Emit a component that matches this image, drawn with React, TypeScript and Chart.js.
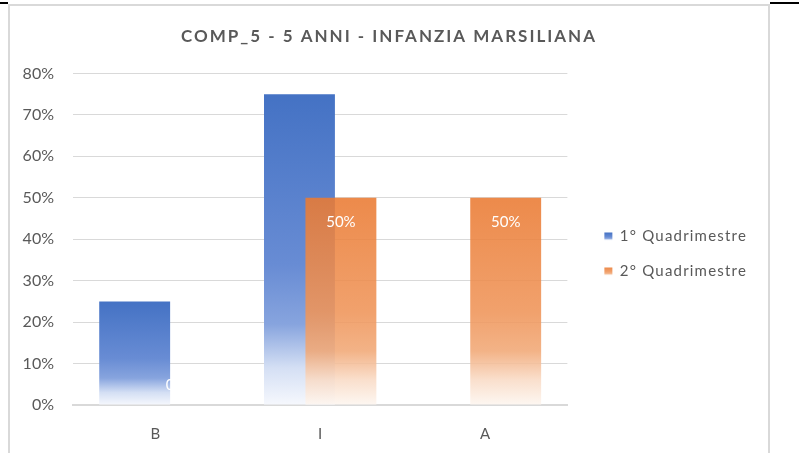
import React, { useEffect, useRef } from 'react';
import { Chart, registerables } from 'chart.js';

Chart.register(...registerables);

const TITLE = 'COMP_5 - 5 ANNI - INFANZIA MARSILIANA';
const CATEGORIES = ['B', 'I', 'A'];
const SERIES_NAMES = ['1° Quadrimestre', '2° Quadrimestre'];
const Q1_VALUES = [25, 75, 0];
const Q2_VALUES = [0, 50, 50];
const Y_MAX = 80;
const Y_STEP = 10;

const FONT = 'Lato, "Open Sans", sans-serif';
const TEXT = '#595959';
const GRID = '#d9d9d9';
const LEGEND_GAP = 17;
const LEGEND_DROP = 30;

const BLUE_STOPS: [number, string][] = [
  [0, 'rgb(68,114,196)'],
  [0.55, 'rgb(104,140,212)'],
  [0.74, 'rgb(135,164,222)'],
  [0.88, 'rgb(212,223,244)'],
  [1, 'rgb(246,248,253)'],
];
const ORANGE_STOPS: [number, string][] = [
  [0, 'rgba(234,122,50,0.88)'],
  [0.55, 'rgba(239,148,88,0.88)'],
  [0.74, 'rgba(241,168,118,0.88)'],
  [0.88, 'rgba(249,219,198,0.88)'],
  [1, 'rgba(253,246,240,0.88)'],
];

function makeGradient(ctx: CanvasRenderingContext2D, top: number, bottom: number, stops: [number, string][]) {
  const g = ctx.createLinearGradient(0, top, 0, bottom);
  stops.forEach(([o, c]) => g.addColorStop(o, c));
  return g;
}

function barFill(stops: [number, string][], fallback: string) {
  return (c: any) => {
    const chart = c.chart;
    const y = chart.scales && chart.scales.y;
    if (c.type !== 'data' || !y || c.raw == null) return fallback;
    const top = y.getPixelForValue(c.raw);
    const base = y.getPixelForValue(0);
    if (!(base - top > 0.5)) return fallback;
    return makeGradient(chart.ctx, top, base, stops);
  };
}

function withSpacing(obj: any, method: string, spacing: string) {
  const orig = obj[method].bind(obj);
  obj[method] = function (...args: any[]) {
    const ctx = this.ctx;
    const prev = ctx.letterSpacing;
    ctx.letterSpacing = spacing;
    const r = orig(...args);
    ctx.letterSpacing = prev;
    return r;
  };
}

const drawPlugin = {
  id: 'drawOrderAndLabels',
  afterInit(chart: any) {
    const legend = chart.legend;
    if (legend) {
      withSpacing(legend, 'fit', '1.2px');
      withSpacing(legend, 'draw', '1.2px');
      const fit = legend.fit.bind(legend);
      legend.fit = function () {
        fit();
        this.width += LEGEND_GAP;
      };
    }
    if (chart.titleBlock) withSpacing(chart.titleBlock, 'draw', '2px');
  },
  afterLayout(chart: any) {
    const legend = chart.legend;
    if (legend) {
      legend.left += LEGEND_GAP;
      legend.top += LEGEND_DROP;
      legend.bottom += LEGEND_DROP;
    }
  },
  beforeDraw(chart: any) {
    const legend = chart.legend;
    if (!legend || !legend.legendItems || !legend.legendHitBoxes) return;
    const stops = [BLUE_STOPS, ORANGE_STOPS];
    legend.legendItems.forEach((item: any, i: number) => {
      const hb = legend.legendHitBoxes[i];
      if (!hb) return;
      const boxH = 8;
      const top = hb.top + (hb.height - boxH) / 2;
      item.fillStyle = makeGradient(chart.ctx, top, top + boxH, stops[i] || BLUE_STOPS);
    });
  },
  beforeDatasetsDraw(chart: any) {
    const ctx = chart.ctx;
    const a = chart.chartArea;
    ctx.save();
    ctx.beginPath();
    ctx.rect(a.left, a.top - 2, a.right - a.left, a.bottom - a.top + 2);
    ctx.clip();
    [0, 1].forEach((i) => {
      const meta = chart.getDatasetMeta(i);
      if (!meta.hidden) meta.controller.draw();
    });
    const meta = chart.getDatasetMeta(1);
    ctx.fillStyle = '#ffffff';
    ctx.font = `15px ${FONT}`;
    ctx.textAlign = 'center';
    ctx.textBaseline = 'middle';
    meta.data.forEach((bar: any, i: number) => {
      const p = bar.getProps(['x', 'y', 'base'], true);
      const ly = Math.min(p.y + 24, p.base - 20);
      ctx.fillText(`${Q2_VALUES[i]}%`, p.x, ly);
    });
    ctx.restore();
    return false;
  },
};

export default function App() {
  const ref = useRef<HTMLCanvasElement | null>(null);

  useEffect(() => {
    if (!ref.current) return;
    const chart = new Chart(ref.current, {
      type: 'bar',
      data: {
        labels: CATEGORIES,
        datasets: [
          {
            label: SERIES_NAMES[0],
            data: Q1_VALUES,
            backgroundColor: barFill(BLUE_STOPS, 'rgb(68,114,196)'),
            borderWidth: 0,
            categoryPercentage: 0.503,
            barPercentage: 1.711,
          },
          {
            label: SERIES_NAMES[1],
            data: Q2_VALUES,
            backgroundColor: barFill(ORANGE_STOPS, 'rgb(237,125,49)'),
            borderWidth: 0,
            categoryPercentage: 0.503,
            barPercentage: 1.711,
          },
        ],
      },
      options: {
        animation: false,
        responsive: false,
        maintainAspectRatio: false,
        events: [],
        layout: { padding: { left: 11, right: 11, top: 0, bottom: 10 } },
        scales: {
          x: {
            grid: { display: false, drawTicks: false },
            border: { display: true, color: GRID, width: 2 },
            ticks: { color: TEXT, font: { family: FONT, size: 15 }, padding: 20, maxRotation: 0 },
            afterFit: (s: any) => {
              s.height = 38;
            },
          },
          y: {
            min: 0,
            max: Y_MAX,
            grid: { color: GRID, lineWidth: 1, drawTicks: false },
            border: { display: false },
            ticks: {
              stepSize: Y_STEP,
              color: TEXT,
              font: { family: FONT, size: 16 },
              padding: 19,
              callback: (v: any) => `${v}%`,
            },
            afterFit: (s: any) => {
              s.width = 52;
            },
          },
        },
        plugins: {
          title: {
            display: true,
            text: TITLE,
            color: TEXT,
            font: { family: FONT, size: 17, weight: 'bold' },
            padding: { top: 21, bottom: 27 },
          },
          legend: {
            position: 'right',
            align: 'center',
            labels: {
              color: TEXT,
              font: { family: FONT, size: 15 },
              boxWidth: 8,
              boxHeight: 8,
              padding: 20,
            },
          },
          tooltip: { enabled: false },
        },
      },
      plugins: [drawPlugin],
    } as any);
    return () => chart.destroy();
  }, []);

  return (
    <div
      style={{
        position: 'fixed',
        left: 0,
        top: 0,
        width: 799,
        height: 453,
        background: '#ffffff',
        overflow: 'hidden',
      }}
    >
      <div style={{ position: 'absolute', left: 0, top: 2, width: 799, height: 2, background: '#000' }} />
      <div style={{ position: 'absolute', left: 8, top: 0, width: 762, height: 4, background: '#fff' }} />
      <div
        style={{
          position: 'absolute',
          left: 8,
          top: 4,
          width: 762,
          height: 460,
          border: '2px solid #d9d9d9',
          borderBottom: 'none',
          boxSizing: 'border-box',
          background: '#fff',
        }}
      />
      <div style={{ position: 'absolute', left: 10, top: 5, width: 758, height: 448 }}>
        <canvas ref={ref} width={758} height={448} style={{ display: 'block' }} />
      </div>
    </div>
  );
}
